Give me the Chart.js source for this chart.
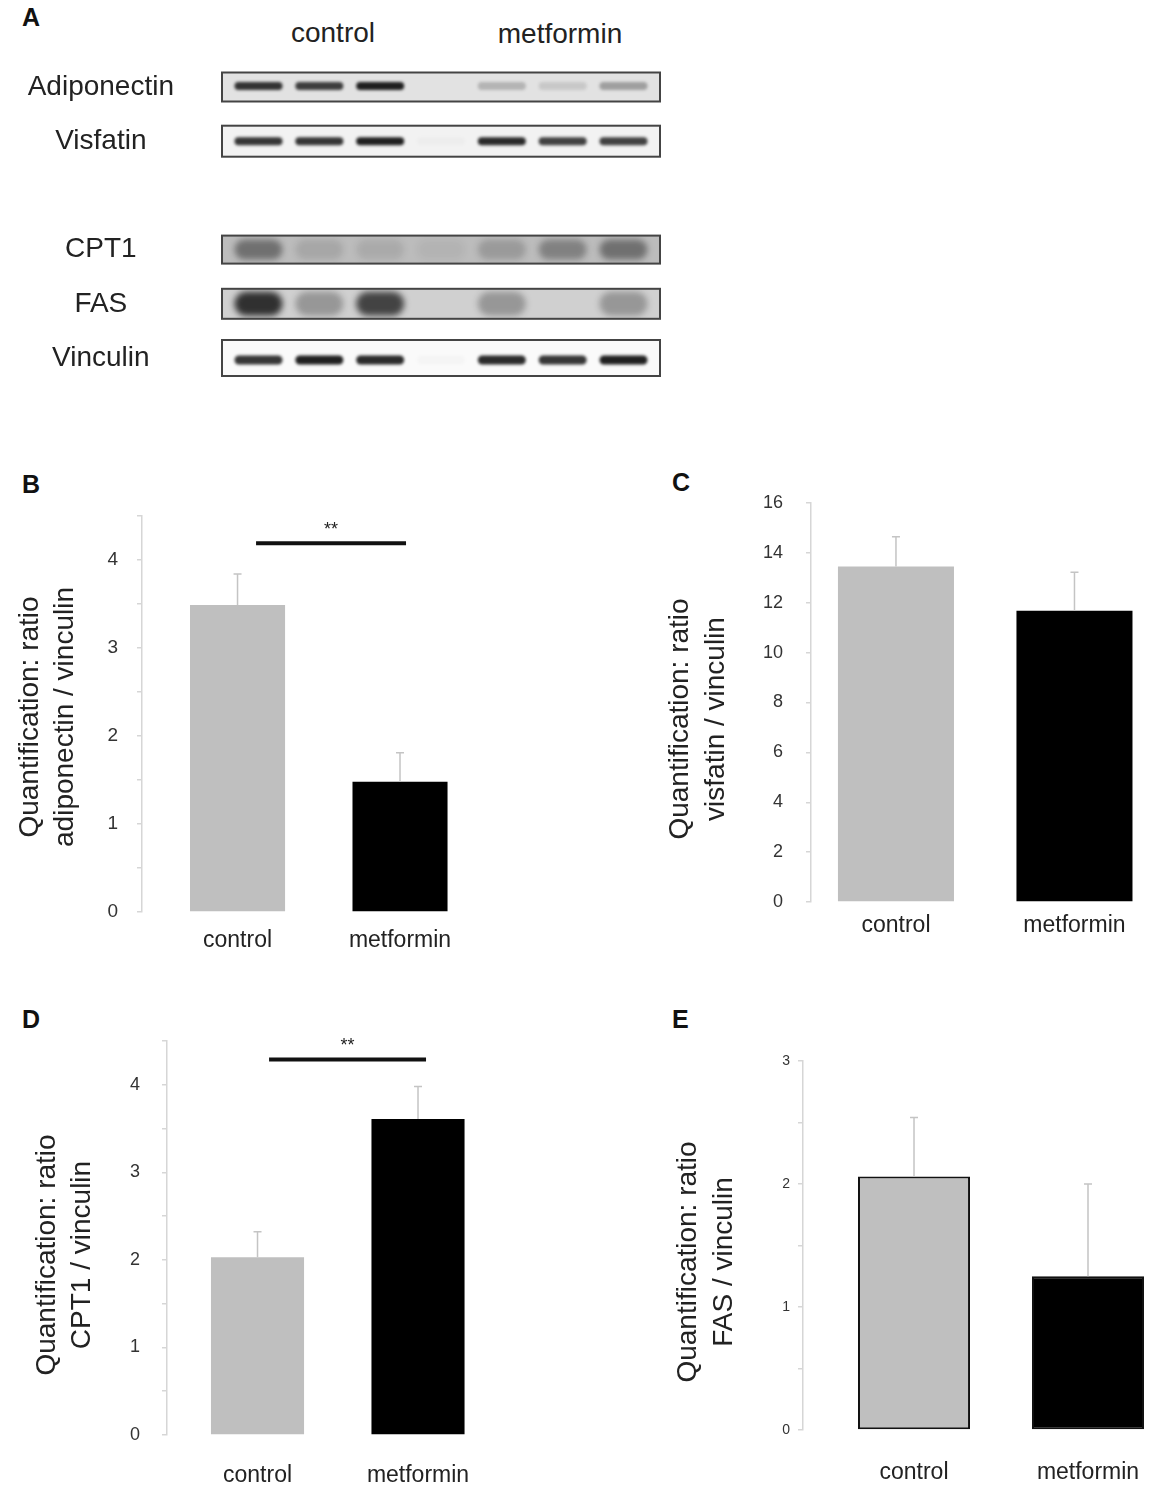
<!DOCTYPE html>
<html>
<head>
<meta charset="utf-8">
<script src="https://cdn.jsdelivr.net/npm/chart.js@4.4.1/dist/chart.umd.min.js"></script>
<style>
  body { margin: 0; background: #fff; }
  #fig { position: relative; width: 1163px; height: 1487px; font-family: 'Liberation Sans', Arial, sans-serif; color: #111; overflow: hidden; }
  canvas { position: absolute; }
  .panel { position: absolute; font-weight: bold; font-size: 25px; line-height: 1; }
  .grp { position: absolute; font-size: 28px; line-height: 1; color: #222; transform: translateX(-50%); }
</style>
</head>
<body>
<div id="fig">
  <div class="panel" style="left:22px;top:5px">A</div>
  <div class="panel" style="left:22px;top:472px">B</div>
  <div class="panel" style="left:672px;top:470px">C</div>
  <div class="panel" style="left:22px;top:1007px">D</div>
  <div class="panel" style="left:672px;top:1007px">E</div>
  <div class="grp" style="left:333px;top:19px">control</div>
  <div class="grp" style="left:560px;top:20px">metformin</div>

  <canvas id="blot" width="700" height="370" style="left:0;top:40px"></canvas>
  <canvas id="chartB" width="520" height="490" style="left:0;top:480px"></canvas>
  <canvas id="chartC" width="513" height="470" style="left:650px;top:480px"></canvas>
  <canvas id="chartD" width="520" height="477" style="left:0;top:1010px"></canvas>
  <canvas id="chartE" width="513" height="477" style="left:650px;top:1010px"></canvas>
</div>

<script>
// Western blot (panel A): rows, lanes and band darkness
const blotRows = ['Adiponectin', 'Visfatin', '', 'CPT1', 'FAS', 'Vinculin'];
const blotLanes = [1, 2, 3, 4, 5, 6, 7];
const adiponectinBands = [0.85, 0.8, 0.95, 0.0, 0.22, 0.12, 0.32];
const visfatinBands = [0.85, 0.85, 0.95, 0.02, 0.9, 0.8, 0.8];
const cpt1Bands = [0.45, 0.12, 0.1, 0.05, 0.2, 0.35, 0.45];
const fasBands = [0.85, 0.3, 0.75, 0.0, 0.3, 0.0, 0.3];
const vinculinBands = [0.85, 0.95, 0.9, 0.02, 0.9, 0.85, 0.95];

// Quantification (panels B-E)
const categories = ['control', 'metformin'];
const adiponectinMean = [3.49, 1.48];
const adiponectinErr = [0.35, 0.33];
const visfatinMean = [13.45, 11.68];
const visfatinErr = [1.2, 1.54];
const cpt1Mean = [2.03, 3.61];
const cpt1Err = [0.29, 0.37];
const fasMean = [2.06, 1.25];
const fasErr = [0.48, 0.75];
const adiponectinSigLevel = 4.19;
const cpt1SigLevel = 4.29;

Chart.defaults.font.family = "'Liberation Sans', Arial, sans-serif";

// draws the blot boxes and bands at the positions the scales give
const blotPlugin = {
  id: 'blot',
  afterDatasetsDraw(chart, args, opts) {
    const { ctx, scales: { x } } = chart;
    const left = x.getPixelForValue(x.min);
    const right = x.getPixelForValue(x.max);
    chart.data.datasets.forEach((ds, di) => {
      const meta = chart.getDatasetMeta(di);
      const st = opts.rows[ds.label];
      const cy = meta.data[0].y;
      ctx.save();
      ctx.beginPath();
      ctx.rect(left, cy - st.h / 2, right - left, st.h);
      ctx.fillStyle = st.bg;
      ctx.fill();
      ctx.clip();
      ctx.filter = `blur(${st.blur}px)`;
      meta.data.forEach((pt, i) => {
        const v = ds.intensity[i];
        if (!v) return;
        ctx.fillStyle = `rgba(20,20,20,${v})`;
        ctx.beginPath();
        ctx.roundRect(pt.x - opts.bandWidth / 2, pt.y + st.dy - st.band / 2, opts.bandWidth, st.band, st.band / 2);
        ctx.fill();
      });
      ctx.restore();
      ctx.save();
      ctx.strokeStyle = '#444';
      ctx.lineWidth = 2;
      ctx.strokeRect(left, cy - st.h / 2, right - left, st.h);
      ctx.restore();
    });
  }
};

const errorBarPlugin = {
  id: 'errorBars',
  afterDatasetsDraw(chart, args, opts) {
    if (!opts.values) return;
    const { ctx, scales: { y } } = chart;
    const ds = chart.data.datasets[0];
    const meta = chart.getDatasetMeta(0);
    ctx.save();
    ctx.strokeStyle = '#c4c4c4';
    ctx.lineWidth = 1.5;
    meta.data.forEach((bar, i) => {
      const top = y.getPixelForValue(ds.data[i].y + opts.values[i]);
      ctx.beginPath();
      ctx.moveTo(bar.x, bar.y);
      ctx.lineTo(bar.x, top);
      ctx.moveTo(bar.x - 4, top);
      ctx.lineTo(bar.x + 4, top);
      ctx.stroke();
    });
    ctx.restore();
  }
};

const sigBarPlugin = {
  id: 'sigBar',
  afterDatasetsDraw(chart, args, opts) {
    if (opts.level === undefined) return;
    const { ctx, scales: { x, y } } = chart;
    const x1 = x.getPixelForValue(opts.from);
    const x2 = x.getPixelForValue(opts.to);
    const yy = y.getPixelForValue(opts.level);
    ctx.save();
    ctx.strokeStyle = '#111';
    ctx.lineWidth = 4;
    ctx.beginPath();
    ctx.moveTo(x1, yy);
    ctx.lineTo(x2, yy);
    ctx.stroke();
    ctx.fillStyle = '#222';
    ctx.font = "18px 'Liberation Sans', Arial, sans-serif";
    ctx.textAlign = 'center';
    ctx.textBaseline = 'middle';
    ctx.fillText(opts.label, (x1 + x2) / 2, yy - 13);
    ctx.restore();
  }
};

const yTitlePlugin = {
  id: 'yTitle',
  afterDraw(chart, args, o) {
    if (!o.lines) return;
    const ctx = chart.ctx;
    ctx.save();
    ctx.font = "28px 'Liberation Sans', Arial, sans-serif";
    ctx.fillStyle = '#222';
    ctx.textAlign = 'center';
    ctx.textBaseline = 'middle';
    o.lines.forEach((t, i) => {
      ctx.save();
      ctx.translate(o.x[i], o.y);
      ctx.rotate(-Math.PI / 2);
      ctx.fillText(t, 0, 0);
      ctx.restore();
    });
    ctx.restore();
  }
};

// Panel A
const bandSets = [
  ['Adiponectin', adiponectinBands],
  ['Visfatin', visfatinBands],
  ['CPT1', cpt1Bands],
  ['FAS', fasBands],
  ['Vinculin', vinculinBands]
];

new Chart(document.getElementById('blot'), {
  type: 'scatter',
  data: {
    datasets: bandSets.map(([name, bands]) => ({
      label: name,
      data: blotLanes.map(l => ({ x: l, y: name })),
      intensity: bands,
      pointRadius: 0
    }))
  },
  options: {
    responsive: false,
    animation: false,
    layout: { padding: { top: 47, right: 40, bottom: 52, left: 0 } },
    plugins: {
      legend: { display: false },
      tooltip: { enabled: false },
      blot: {
        bandWidth: 48,
        rows: {
          Adiponectin: { h: 29, bg: '#e2e2e2', band: 8, dy: -1, blur: 1.5 },
          Visfatin: { h: 31, bg: '#f2f2f2', band: 8, dy: 0, blur: 1.5 },
          CPT1: { h: 28, bg: '#bcbcbc', band: 20, dy: 0, blur: 3 },
          FAS: { h: 30, bg: '#d0d0d0', band: 24, dy: 0, blur: 3 },
          Vinculin: { h: 36, bg: '#fafafa', band: 9, dy: 2, blur: 1.5 }
        }
      }
    },
    scales: {
      x: { type: 'linear', min: 0.4, max: 7.6, display: false },
      y: {
        type: 'category',
        labels: blotRows,
        grid: { display: false },
        border: { display: false },
        afterFit: s => { s.width = 222; s.paddingTop = 0; s.paddingBottom = 0; },
        ticks: { font: { size: 28 }, color: '#222', padding: 40, crossAlign: 'center' }
      }
    }
  },
  plugins: [blotPlugin]
});

// Panels B-E
function makeBarChart(id, o) {
  return new Chart(document.getElementById(id), {
    type: 'bar',
    data: {
      datasets: [{
        data: categories.map((c, i) => ({ x: i + 1, y: o.means[i] })),
        backgroundColor: ['#bfbfbf', '#000000'],
        borderColor: o.border ? '#111' : 'transparent',
        borderWidth: o.border ? 2 : 0,
        borderSkipped: false,
        barPercentage: o.barPct,
        categoryPercentage: 1
      }]
    },
    options: {
      responsive: false,
      animation: false,
      layout: { padding: { top: o.top, right: o.right, left: 0, bottom: 0 } },
      plugins: {
        legend: { display: false },
        tooltip: { enabled: false },
        errorBars: { values: o.errors },
        sigBar: o.sig || {},
        yTitle: o.title
      },
      scales: {
        x: {
          type: 'linear',
          offset: false,
          min: o.xMin,
          max: o.xMax,
          grid: { display: false, drawTicks: false, offset: false },
          border: { display: false },
          afterBuildTicks: s => { s.ticks = categories.map((c, i) => ({ value: i + 1 })); },
          afterFit: s => { s.height = o.xHeight; s.paddingLeft = 0; s.paddingRight = 0; },
          ticks: {
            callback: (v, i) => categories[i],
            autoSkip: false,
            maxRotation: 0,
            font: { size: 23 },
            color: '#222',
            padding: o.xPad
          }
        },
        y: {
          min: 0,
          max: o.yMax,
          afterFit: s => { s.width = o.yWidth; s.paddingTop = 0; s.paddingBottom = 0; },
          grid: { drawOnChartArea: false, tickLength: 5, color: '#d6d6d6', lineWidth: 1.5 },
          border: { color: '#d6d6d6', width: 1.5 },
          ticks: {
            stepSize: o.step,
            callback: v => Number.isInteger(v) ? v : '',
            font: { size: o.tickSize },
            color: '#333',
            padding: o.yPad
          }
        }
      }
    },
    plugins: [errorBarPlugin, sigBarPlugin, yTitlePlugin]
  });
}

makeBarChart('chartB', {
  means: adiponectinMean, errors: adiponectinErr,
  top: 36, right: 22.5, yWidth: 142, xHeight: 58,
  xMin: 0.412, xMax: 2.6, yMax: 4.5, step: 0.5, barPct: 0.585,
  xPad: 15, yPad: 19, tickSize: 19,
  sig: { from: 1.114, to: 2.037, level: adiponectinSigLevel, label: '**' },
  title: { lines: ['Quantification: ratio', 'adiponectin / vinculin'], x: [30, 65], y: 237 }
});

makeBarChart('chartC', {
  means: visfatinMean, errors: visfatinErr,
  top: 23, right: 8.2, yWidth: 161, xHeight: 48,
  xMin: 0.524, xMax: 2.45, yMax: 16, step: 2, barPct: 0.65,
  xPad: 10, yPad: 23, tickSize: 18,
  title: { lines: ['Quantification: ratio', 'visfatin / vinculin'], x: [30, 66], y: 239 }
});

makeBarChart('chartD', {
  means: cpt1Mean, errors: cpt1Err,
  top: 31, right: 5.7, yWidth: 167, xHeight: 52,
  xMin: 0.436, xMax: 2.6, yMax: 4.5, step: 0.5, barPct: 0.58,
  xPad: 27, yPad: 22, tickSize: 18,
  sig: { from: 1.072, to: 2.05, level: cpt1SigLevel, label: '**' },
  title: { lines: ['Quantification: ratio', 'CPT1 / vinculin'], x: [47, 82], y: 245 }
});

makeBarChart('chartE', {
  means: fasMean, errors: fasErr, border: true,
  top: 51, right: 5.4, yWidth: 153, xHeight: 57,
  xMin: 0.362, xMax: 2.4, yMax: 3, step: 0.5, barPct: 0.644,
  xPad: 29, yPad: 8, tickSize: 14,
  title: { lines: ['Quantification: ratio', 'FAS / vinculin'], x: [38, 74], y: 252 }
});
</script>
</body>
</html>
